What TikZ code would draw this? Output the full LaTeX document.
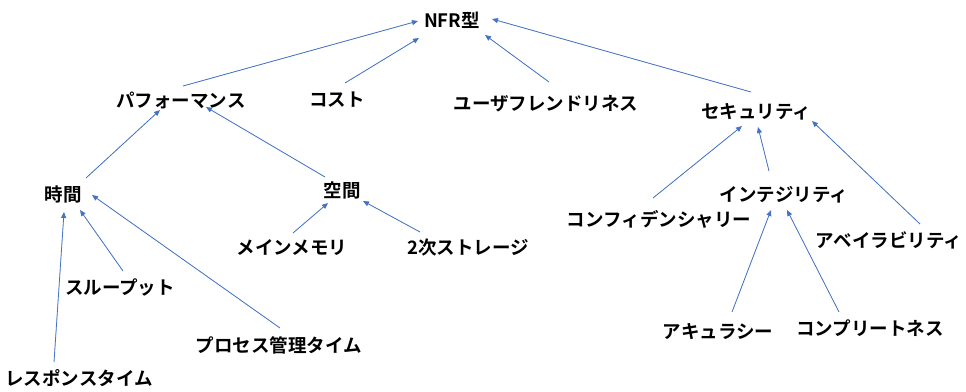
\documentclass[tikz,border=0pt]{standalone}
\usepackage{fontspec}
\setmainfont{Noto Sans CJK JP}[BoldFont={Noto Sans CJK JP Bold}]
\usetikzlibrary{arrows.meta,calc}
\definecolor{arrblue}{RGB}{68,114,196}
\begin{document}
\begin{tikzpicture}[x=1pt,y=-1pt,
  lbl/.style={inner sep=0pt,font=\fontsize{18.5}{20}\selectfont\bfseries},
  arr/.style={draw=arrblue,line width=0.8pt,-{Triangle[length=6pt,width=5pt]},fill=arrblue}]
\useasboundingbox (0,0) rectangle (966,391);
\node[lbl] (nfr) at (452,20) {NFR型};
\node[lbl] (perf) at (181,100) {パフォーマンス};
\node[lbl] (cost) at (337,100) {コスト};
\node[lbl] (user) at (546,104) {ユーザフレンドリネス};
\node[lbl] (sec) at (756,112) {セキュリティ};
\node[lbl] (jikan) at (63,194) {時間};
\node[lbl] (kukan) at (342,190) {空間};
\node[lbl] (main) at (292,248) {メインメモリ};
\node[lbl] (storage) at (468,248) {2次ストレージ};
\node[lbl] (conf) at (659,219) {コンフィデンシャリー};
\node[lbl] (integ) at (784,195) {インテジリティ};
\node[lbl] (avail) at (889,240) {アベイラビリティ};
\node[lbl] (thru) at (120,287) {スループット};
\node[lbl] (proc) at (279,345) {プロセス管理タイム};
\node[lbl] (resp) at (79,378) {レスポンスタイム};
\node[lbl] (acc) at (718,332) {アキュラシー};
\node[lbl] (comp) at (870,328) {コンプリートネス};

\draw[arr] ($(perf)+(2,-14)$) -- ($(nfr)+(-34,1)$);
\draw[arr] ($(cost)+(8,-17)$) -- ($(nfr)+(-33,18)$);
\draw[arr] ($(user)+(3,-22)$) -- ($(nfr)+(33,15)$);
\draw[arr] ($(sec)+(-5,-20)$) -- ($(nfr)+(40,-1)$);
\draw[arr] ($(jikan)+(23,-16)$) -- ($(perf)+(-21,10)$);
\draw[arr] ($(kukan)+(-17,-13)$) -- ($(perf)+(25,7)$);
\draw[arr] ($(resp)+(-25,-16)$) -- ($(jikan)+(1,18)$);
\draw[arr] ($(thru)+(3,-16)$) -- ($(jikan)+(17,16)$);
\draw[arr] ($(proc)+(1,-17)$) -- ($(jikan)+(29,1)$);
\draw[arr] ($(main)+(1,-15)$) -- ($(kukan)+(-14,13)$);
\draw[arr] ($(storage)+(-48,-16)$) -- ($(kukan)+(21,11)$);
\draw[arr] ($(conf)+(-6,-21)$) -- ($(sec)+(-14,14)$);
\draw[arr] ($(integ)+(-15,-24)$) -- ($(sec)+(2,15)$);
\draw[arr] ($(avail)+(31,-16)$) -- ($(sec)+(56,9)$);
\draw[arr] ($(acc)+(14,-20)$) -- ($(integ)+(-13,15)$);
\draw[arr] ($(comp)+(-31,-16)$) -- ($(integ)+(3,15)$);
\end{tikzpicture}
\end{document}
